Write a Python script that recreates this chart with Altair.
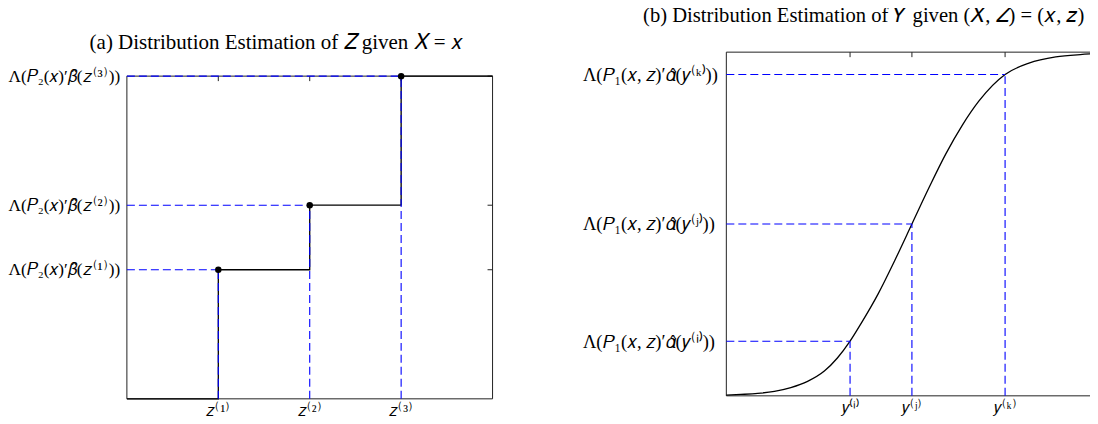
import altair as alt
import pandas as pd

# ---------------- panel (a): step CDF of Z given X = x ----------------
z_points = [1, 2, 3]
z_cdf = [0.4, 0.6, 1.0]
z_tick_labels = ["𝑧⁽¹⁾", "𝑧⁽²⁾", "𝑧⁽³⁾"]
z_cdf_labels = ["Λ(𝑃₂(𝑥)′𝛽̂(𝑧⁽¹⁾))", "Λ(𝑃₂(𝑥)′𝛽̂(𝑧⁽²⁾))", "Λ(𝑃₂(𝑥)′𝛽̂(𝑧⁽³⁾))"]
z_domain = [0, 4]
prob_domain = [0, 1]
title_a = "(a) Distribution Estimation of 𝑍 given 𝑋 = 𝑥"

# ---------------- panel (b): smooth CDF of Y given (X,Z) = (x,z) ----------------
y_grid = [0.0, 0.39, 0.84, 1.29, 1.73, 2.18, 2.63, 2.98, 3.32, 3.63, 4.07, 4.52,
          4.98, 5.44, 5.89, 6.33, 6.78, 7.48, 8.12, 8.84, 9.5, 10.0]
y_curve = [0.002, 0.004, 0.007, 0.013, 0.024, 0.042, 0.072, 0.110, 0.159, 0.213,
           0.296, 0.394, 0.500, 0.606, 0.704, 0.787, 0.858, 0.935, 0.968, 0.986,
           0.993, 0.996]
y_points = [3.32, 4.98, 7.48]
y_cdf = [0.159, 0.5, 0.935]
y_tick_labels = ["𝑦⁽ⁱ⁾", "𝑦⁽ʲ⁾", "𝑦⁽ᵏ⁾"]
y_cdf_labels = ["Λ(𝑃₁(𝑥, 𝑧)′𝛼̂(𝑦⁽ⁱ⁾))", "Λ(𝑃₁(𝑥, 𝑧)′𝛼̂(𝑦⁽ʲ⁾))", "Λ(𝑃₁(𝑥, 𝑧)′𝛼̂(𝑦⁽ᵏ⁾))"]
y_domain = [0, 10]
title_b = "(b) Distribution Estimation of 𝑌 given (𝑋, 𝑍) = (𝑥, 𝑧)"

BLUE = "#0000ff"
DASH = [8, 4]
FONT = "Liberation Serif"


def label_expr(values, labels):
    vals = ",".join(repr(v) for v in values)
    labs = ",".join("'" + s + "'" for s in labels)
    return f"[{labs}][indexof([{vals}], datum.value)]"


def panel(xs, ys, curve_interp, pts_x, pts_y, xlabels, ylabels, xdom, width, height,
          yrange, title, title_size, title_offset, title_dx, title_dy, show_points,
          ylab_size, ylab_pad):
    xs_scale = alt.Scale(domain=xdom, nice=False, zero=False)
    ys_scale = alt.Scale(domain=prob_domain, nice=False, range=yrange)

    x_axis = alt.Axis(values=pts_x, labelExpr=label_expr(pts_x, xlabels), ticks=False,
                      domain=False, grid=False, title=None, labelFont=FONT,
                      labelFontSize=16, labelColor="black", labelPadding=4)
    y_axis = alt.Axis(values=pts_y, labelExpr=label_expr(pts_y, ylabels), ticks=False,
                      domain=False, grid=False, title=None, labelFont=FONT,
                      labelFontSize=ylab_size, labelColor="black", labelPadding=ylab_pad,
                      labelAlign="left")

    curve_df = pd.DataFrame({"x": xs, "y": ys})
    curve = alt.Chart(curve_df).mark_line(color="black", strokeWidth=1.3,
                                          interpolate=curve_interp).encode(
        x=alt.X("x:Q", scale=xs_scale, axis=x_axis),
        y=alt.Y("y:Q", scale=ys_scale, axis=y_axis),
    )

    # frame (box) from the domain ends
    frame_df = pd.DataFrame({
        "x": [xdom[0], xdom[0], xdom[0], xdom[1]],
        "x2": [xdom[1], xdom[1], xdom[0], xdom[1]],
        "y": [prob_domain[0], prob_domain[1], prob_domain[0], prob_domain[0]],
        "y2": [prob_domain[0], prob_domain[1], prob_domain[1], prob_domain[1]],
    })
    frame = alt.Chart(frame_df).mark_rule(color="#222222", strokeWidth=1).encode(
        x="x:Q", x2="x2:Q", y="y:Q", y2="y2:Q")

    # inward ticks on top and right sides
    top_ticks = alt.Chart(pd.DataFrame({"x": pts_x, "y": [prob_domain[1]] * 3})).mark_rule(
        color="#222222", strokeWidth=1, y2Offset=5).encode(x="x:Q", y="y:Q", y2="y:Q")
    right_ticks = alt.Chart(pd.DataFrame({"x": [xdom[1]] * 3, "y": pts_y})).mark_rule(
        color="#222222", strokeWidth=1, x2Offset=-5).encode(x="x:Q", x2="x:Q", y="y:Q")

    guides_df = pd.DataFrame({"x0": [xdom[0]] * 3, "x": pts_x,
                              "y0": [prob_domain[0]] * 3, "y": pts_y})
    hdash = alt.Chart(guides_df).mark_rule(color=BLUE, strokeWidth=1.1,
                                           strokeDash=DASH).encode(
        x="x0:Q", x2="x:Q", y="y:Q")
    vdash = alt.Chart(guides_df).mark_rule(color=BLUE, strokeWidth=1.1,
                                           strokeDash=DASH).encode(
        x="x:Q", y="y0:Q", y2="y:Q")

    layers = [frame, top_ticks, right_ticks, curve, hdash, vdash]
    if show_points:
        dots = alt.Chart(guides_df).mark_circle(color="black", opacity=1, size=42).encode(
            x="x:Q", y="y:Q")
        layers.append(dots)

    return alt.layer(*layers).properties(
        width=width, height=height,
        title=alt.TitleParams(text=title, font=FONT, fontSize=title_size,
                              fontWeight="normal", color="black", anchor="middle",
                              frame="group", baseline="alphabetic", offset=title_offset,
                              dx=title_dx, dy=title_dy),
    )


step_x = [z_domain[0]] + z_points + [z_domain[1]]
step_y = [prob_domain[0]] + z_cdf + [z_cdf[-1]]

left = panel(step_x, step_y, "step-after", z_points, z_cdf, z_tick_labels, z_cdf_labels,
             z_domain, 366, 347, [347, 24], title_a, 21, 0, -33.5, 18, True, 17.2, 119)
right = panel(y_grid, y_curve, "monotone", y_points, y_cdf, y_tick_labels, y_cdf_labels,
              y_domain, 373, 344, [344, 0], title_b, 20.6, 29, -49, 21, False, 18.5, 144)

chart = alt.hconcat(left, right, spacing=234, bounds="flush").properties(
    padding={"left": 0, "top": -2, "right": -12, "bottom": 0}
).configure_view(strokeWidth=0)

chart.save("out.html", embed_options={"renderer": "svg", "actions": False})
